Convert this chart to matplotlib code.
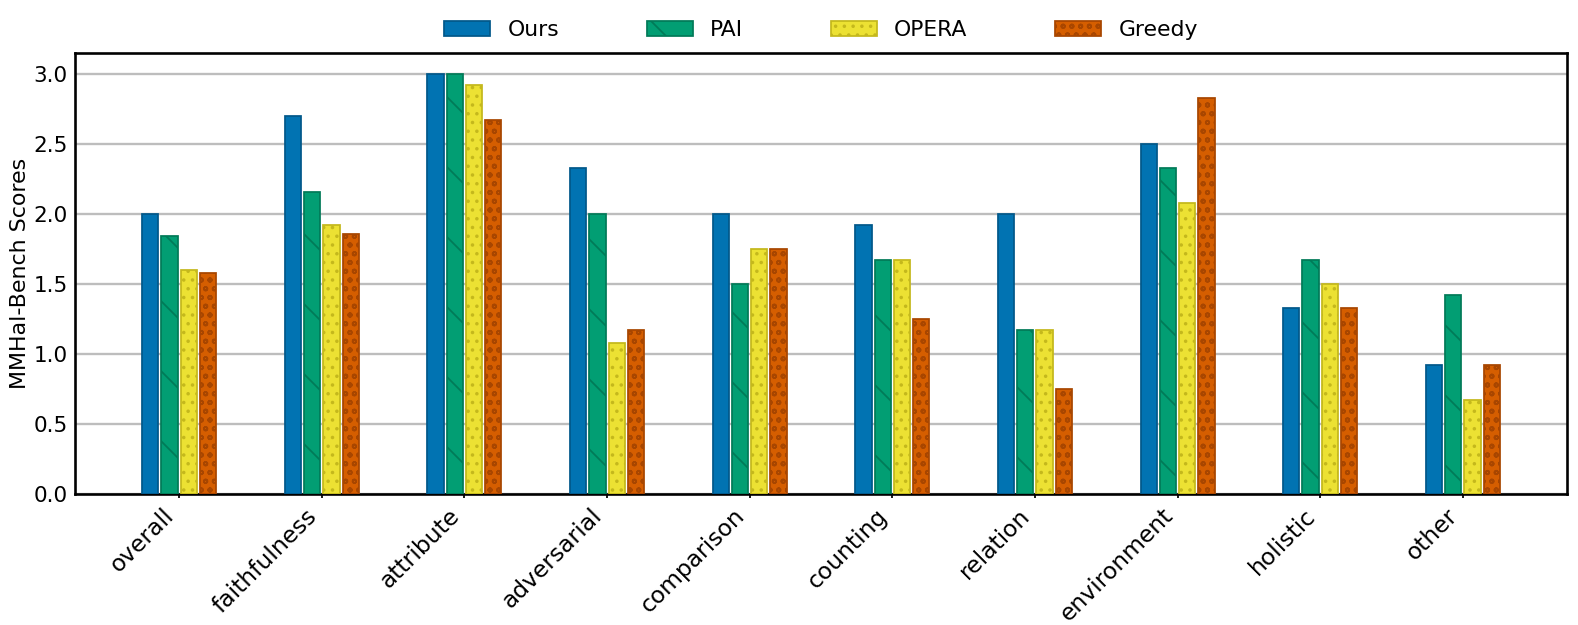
import matplotlib
matplotlib.use("Agg")
import matplotlib.pyplot as plt
import numpy as np

categories = ["overall", "faithfulness", "attribute", "adversarial", "comparison",
              "counting", "relation", "environment", "holistic", "other"]
series_names = ["Ours", "PAI", "OPERA", "Greedy"]
ours = [2.00, 2.70, 3.00, 2.33, 2.00, 1.92, 2.00, 2.50, 1.33, 0.92]
pai = [1.84, 2.16, 3.00, 2.00, 1.50, 1.67, 1.17, 2.33, 1.67, 1.42]
opera = [1.60, 1.92, 2.92, 1.08, 1.75, 1.67, 1.17, 2.08, 1.50, 0.67]
greedy = [1.58, 1.86, 2.67, 1.17, 1.75, 1.25, 0.75, 2.83, 1.33, 0.92]
yticks = [0.0, 0.5, 1.0, 1.5, 2.0, 2.5, 3.0]

values = [ours, pai, opera, greedy]
faces = ["#0173B2", "#029E73", "#ECE133", "#D55E00"]
edges = ["#01588a", "#017a58", "#c4b81c", "#a84600"]
hatches = [None, "\\", "....", "oooo"]

plt.rcParams["font.family"] = ["DejaVu Sans"]
plt.rcParams["hatch.linewidth"] = 0.6

fig = plt.figure(figsize=(1578 / 210, 625 / 210), dpi=210)
ax = fig.add_axes([75 / 1578, 1 - 494 / 625, (1567 - 75) / 1578, (494 - 53) / 625])

x = np.arange(len(categories))
step = 0.135
width = 0.114
for i, (name, vals) in enumerate(zip(series_names, values)):
    ax.bar(x + (i - 1.5) * step, vals, width=width, color=faces[i], edgecolor=edges[i],
           hatch=hatches[i], linewidth=0.6, label=name, zorder=3)

ax.set_xlim(-0.73, len(categories) - 1 + 0.73)
ax.set_ylim(0, 3.15)
ax.set_yticks(yticks)
ax.set_yticklabels([f"{v:.1f}" for v in yticks], fontsize=7.4)
ax.set_xticks(x)
ax.set_xticklabels(categories, rotation=45, ha="right", fontsize=8)
ax.tick_params(axis="x", length=1.5, width=0.6, pad=2)
ax.tick_params(axis="y", length=0, pad=2.5)
ax.set_ylabel("MMHal-Bench Scores", fontsize=7.6, labelpad=1)
ax.yaxis.grid(True, color="#bdbdbd", linewidth=0.8, zorder=0)
ax.set_axisbelow(True)
for s in ax.spines.values():
    s.set_linewidth(0.9)
    s.set_color("black")

ax.legend(loc="lower center", bbox_to_anchor=(0.5, 1.01), ncol=4, frameon=False,
          fontsize=7.5, columnspacing=4.0, handlelength=2.1, borderaxespad=0)

fig.savefig("out.png", dpi=210)
